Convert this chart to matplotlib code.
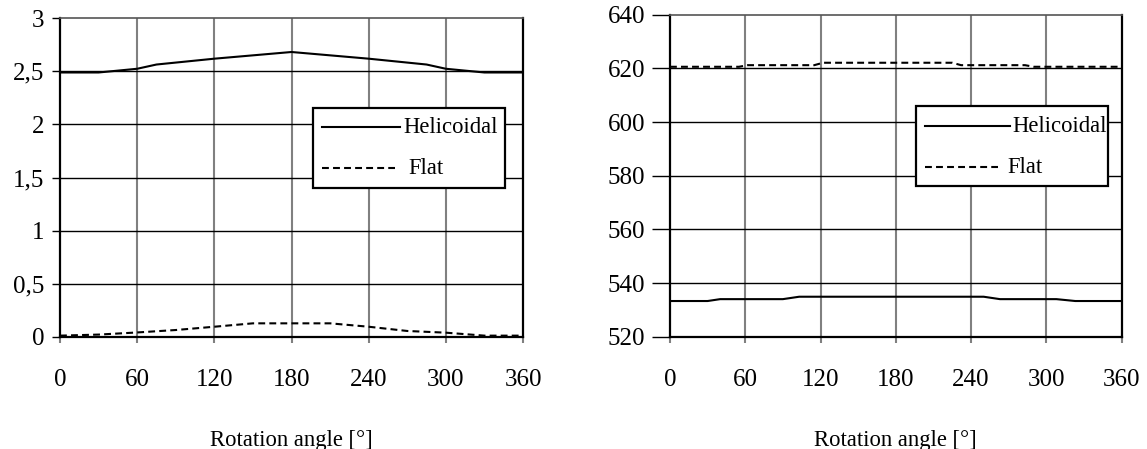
import matplotlib
matplotlib.use("Agg")
import matplotlib.pyplot as plt
from matplotlib.patches import Rectangle
from matplotlib.lines import Line2D

plt.rcParams['font.family'] = ['Liberation Serif', 'DejaVu Serif']

# ---- data ----
x_ticks = [0, 60, 120, 180, 240, 300, 360]

left_heli_angle = [0, 30, 60, 75, 120, 180, 240, 285, 300, 330, 360]
left_heli_val = [2.49, 2.49, 2.525, 2.565, 2.62, 2.683, 2.62, 2.565, 2.525, 2.49, 2.49]
left_flat_angle = [0, 30, 60, 90, 120, 150, 180, 210, 240, 270, 300, 330, 360]
left_flat_val = [0.01, 0.02, 0.04, 0.063, 0.094, 0.126, 0.126, 0.126, 0.094, 0.054, 0.038, 0.01, 0.01]
left_yticks = [0, 0.5, 1, 1.5, 2, 2.5, 3]
left_ylabels = ['0', '0,5', '1', '1,5', '2', '2,5', '3']

right_heli_angle = [0, 30, 40, 90, 103, 250, 263, 308, 323, 360]
right_heli_val = [533.3, 533.3, 534.0, 534.0, 534.9, 534.9, 534.0, 534.0, 533.3, 533.3]
right_flat_angle = [0, 55, 62, 115, 122, 225, 232, 283, 290, 360]
right_flat_val = [620.6, 620.6, 621.2, 621.2, 622.1, 622.1, 621.2, 621.2, 620.6, 620.6]
right_yticks = [520, 540, 560, 580, 600, 620, 640]
right_ylabels = ['520', '540', '560', '580', '600', '620', '640']

series_names = ['Helicoidal', 'Flat']
xlabel = 'Rotation angle [°]'

fig = plt.figure(figsize=(11.47, 4.49), dpi=100)
FS_TICK = 18
FS = 16.3

def setup(ax, yticks, ylabels, ylim, ylen):
    ax.set_xlim(0, 360)
    ax.set_ylim(*ylim)
    ax.set_xticks(x_ticks)
    ax.set_xticklabels([str(v) for v in x_ticks])
    ax.set_yticks(yticks)
    ax.set_yticklabels(ylabels)
    for v in x_ticks[1:-1]:
        ax.axvline(v, color='#808080', lw=1.5, zorder=1)
    for v in yticks[1:-1]:
        ax.axhline(v, color='black', lw=1.0, zorder=1)
    for s in ax.spines.values():
        s.set_color('black')
        s.set_linewidth(1.6)
    ax.spines['top'].set_color('#555555')
    ax.spines['top'].set_linewidth(1.2)
    ax.tick_params(axis='y', direction='out', length=ylen, width=1.0, color='black',
                   pad=5, labelsize=FS_TICK)
    ax.tick_params(axis='x', direction='out', length=4, width=1.5, color='#808080',
                   pad=19, labelsize=FS_TICK)
    ax.set_xlabel(xlabel, fontsize=FS, labelpad=28)

def legend(ax, box, y_h, y_f, x0, x1h, x1f, xth, xtf):
    ax.add_patch(Rectangle((box[0], box[1]), box[2]-box[0], box[3]-box[1],
                           transform=ax.transAxes, facecolor='white',
                           edgecolor='black', lw=1.6, zorder=5))
    ax.add_line(Line2D([x0, x1h], [y_h, y_h], transform=ax.transAxes,
                       color='black', lw=1.5, zorder=6))
    ax.add_line(Line2D([x0, x1f], [y_f, y_f], transform=ax.transAxes,
                       color='black', lw=1.5, dashes=(3.3, 2.0), zorder=6))
    ax.text(xth, y_h, series_names[0], transform=ax.transAxes, fontsize=FS,
            va='center', ha='left', zorder=7)
    ax.text(xtf, y_f, series_names[1], transform=ax.transAxes, fontsize=FS,
            va='center', ha='left', zorder=7)

ax1 = fig.add_axes([0.0523, 0.2501, 0.4037, 0.709])
setup(ax1, left_yticks, left_ylabels, (0, 3), 6)
ax1.plot(left_heli_angle, left_heli_val, color='black', lw=1.5, zorder=3)
ax1.plot(left_flat_angle, left_flat_val, color='black', lw=1.5, dashes=(3.3, 2.0), zorder=3)
legend(ax1, (0.5464, 0.467, 0.9611, 0.7183), 0.6586, 0.5298,
       0.566, 0.734, 0.7235, 0.741, 0.752)

ax2 = fig.add_axes([0.5841, 0.2501, 0.3938, 0.7171])
setup(ax2, right_yticks, right_ylabels, (520, 640), 13)
ax2.plot(right_heli_angle, right_heli_val, color='black', lw=1.5, zorder=3)
ax2.plot(right_flat_angle, right_flat_val, color='black', lw=1.5, dashes=(3.3, 2.0), zorder=3)
legend(ax2, (0.544, 0.468, 0.9688, 0.7165), 0.654, 0.527,
       0.5645, 0.7527, 0.726, 0.759, 0.746)

fig.savefig('out.png', dpi=100)
